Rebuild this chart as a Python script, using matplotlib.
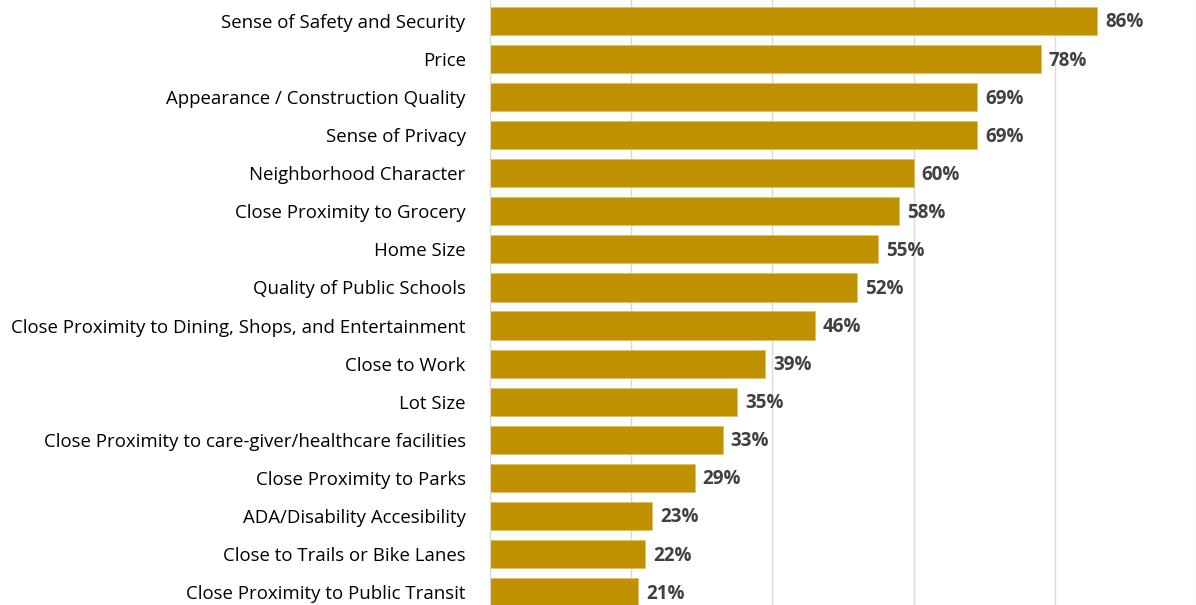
import matplotlib.pyplot as plt

categories = [
    "Sense of Safety and Security",
    "Price",
    "Appearance / Construction Quality",
    "Sense of Privacy",
    "Neighborhood Character",
    "Close Proximity to Grocery",
    "Home Size",
    "Quality of Public Schools",
    "Close Proximity to Dining, Shops, and Entertainment",
    "Close to Work",
    "Lot Size",
    "Close Proximity to care-giver/healthcare facilities",
    "Close Proximity to Parks",
    "ADA/Disability Accesibility",
    "Close to Trails or Bike Lanes",
    "Close Proximity to Public Transit",
]
values = [86, 78, 69, 69, 60, 58, 55, 52, 46, 39, 35, 33, 29, 23, 22, 21]

fig = plt.figure(figsize=(11.96, 6.05), dpi=100)
ax = fig.add_axes([0.4097, 0.0, 0.5903, 1.0])

pos = range(len(categories))
ax.barh(pos, values, height=0.74, color="#C09100", edgecolor="#E0C060", linewidth=0.6, zorder=2)

for i, v in enumerate(values):
    ax.text(v + 1.1, i + 0.04, f"{v}%", va="center", ha="left", fontsize=13.5,
            fontweight="bold", color="#404040", family="Open Sans")

ax.set_xlim(0, 100)
ax.set_ylim(15.34, -0.55)
ax.set_xticks([0, 20, 40, 60, 80, 100])
ax.xaxis.grid(True, color="#D9D9D9", linewidth=1, zorder=0)
ax.tick_params(axis="x", bottom=False, labelbottom=False)
ax.tick_params(axis="y", left=False, pad=14)
ax.set_yticks(list(pos))
ax.set_yticklabels(categories, fontsize=13.4, family="Open Sans", color="#000000")
for s in ["top", "right", "bottom"]:
    ax.spines[s].set_visible(False)
ax.spines["left"].set_color("#D9D9D9")

fig.savefig("out.png", dpi=100)
